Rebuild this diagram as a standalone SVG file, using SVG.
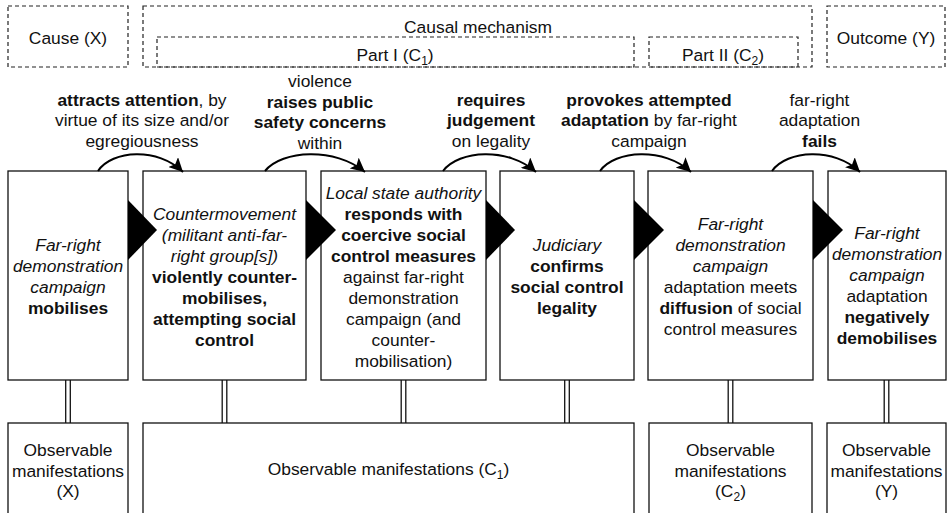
<svg xmlns="http://www.w3.org/2000/svg" width="950" height="513" viewBox="0 0 950 513">
<defs>
<style>
text{font-family:"Liberation Sans",Arial,Helvetica,sans-serif;font-size:17.4px;fill:#111;text-anchor:middle}
.i{font-style:italic}
.b{font-weight:bold}
.box{fill:#fff;stroke:#111;stroke-width:1.3}
.dash{fill:none;stroke:#222;stroke-width:1.2;stroke-dasharray:4 3}
.arc{fill:none;stroke:#000;stroke-width:2}
.tri{fill:#000}
.dbl{stroke:#111;stroke-width:1.3}
.sub{font-size:12px}
</style>
<marker id="ah" markerUnits="userSpaceOnUse" markerWidth="16" markerHeight="14" viewBox="0 0 16 14" refX="14" refY="7" orient="auto">
<path d="M0,0 L14,7 L0,14 L3,7 Z" fill="#000"/>
</marker>
</defs>
<rect width="950" height="513" fill="#fff"/>

<g id="headers">
<g id="cause"><rect class="dash" x="8" y="6" width="120" height="61"/><text x="68" y="44">Cause (X)</text></g>
<g id="mechanism"><rect class="dash" x="143" y="6" width="669" height="61"/><text x="478" y="33">Causal mechanism</text></g>
<g id="part1"><rect class="dash" x="157" y="37" width="477" height="30"/><text x="395" y="61">Part I (C<tspan class="sub" dy="4">1</tspan><tspan dy="-4">)</tspan></text></g>
<g id="part2"><rect class="dash" x="649" y="37" width="149" height="30"/><text x="723" y="61">Part II (C<tspan class="sub" dy="4">2</tspan><tspan dy="-4">)</tspan></text></g>
<g id="outcome"><rect class="dash" x="827" y="6" width="118" height="61"/><text x="886" y="44">Outcome (Y)</text></g>
</g>

<g id="node1"><rect class="box" x="8" y="171" width="120" height="209"/>
<text x="68" y="251" class="i">Far-right</text>
<text x="68" y="272" class="i">demonstration</text>
<text x="68" y="293" class="i">campaign</text>
<text x="68" y="314" class="b">mobilises</text>
</g>
<g id="node2"><rect class="box" x="143" y="171" width="163" height="209"/>
<text x="224.5" y="220" class="i">Countermovement</text>
<text x="224.5" y="241" class="i">(militant anti-far-</text>
<text x="224.5" y="262" class="i">right group[s])</text>
<text x="224.5" y="283" class="b">violently counter-</text>
<text x="224.5" y="304" class="b">mobilises,</text>
<text x="224.5" y="325" class="b">attempting social</text>
<text x="224.5" y="346" class="b">control</text>
</g>
<g id="node3"><rect class="box" x="321" y="171" width="165" height="209"/>
<text x="403.5" y="199" class="i">Local state authority</text>
<text x="403.5" y="220" class="b">responds with</text>
<text x="403.5" y="241" class="b">coercive social</text>
<text x="403.5" y="262" class="b">control measures</text>
<text x="403.5" y="283">against far-right</text>
<text x="403.5" y="304">demonstration</text>
<text x="403.5" y="325">campaign (and</text>
<text x="403.5" y="346">counter-</text>
<text x="403.5" y="367">mobilisation)</text>
</g>
<g id="node4"><rect class="box" x="500" y="171" width="134" height="209"/>
<text x="567" y="251" class="i">Judiciary</text>
<text x="567" y="272" class="b">confirms</text>
<text x="567" y="293" class="b">social control</text>
<text x="567" y="314" class="b">legality</text>
</g>
<g id="node5"><rect class="box" x="648" y="171" width="165" height="209"/>
<text x="730.5" y="230" class="i">Far-right</text>
<text x="730.5" y="251" class="i">demonstration</text>
<text x="730.5" y="272" class="i">campaign</text>
<text x="730.5" y="293">adaptation meets</text>
<text x="730.5" y="314"><tspan class="b">diffusion</tspan> of social</text>
<text x="730.5" y="335">control measures</text>
</g>
<g id="node6"><rect class="box" x="828" y="171" width="118" height="209"/>
<text x="887" y="239" class="i">Far-right</text>
<text x="887" y="260" class="i">demonstration</text>
<text x="887" y="281" class="i">campaign</text>
<text x="887" y="302">adaptation</text>
<text x="887" y="323" class="b">negatively</text>
<text x="887" y="344" class="b">demobilises</text>
</g>

<g id="obsX"><rect class="box" x="8" y="423" width="120" height="100"/>
<text x="68" y="456">Observable</text><text x="68" y="477">manifestations</text><text x="68" y="497">(X)</text></g>
<g id="obsC1"><rect class="box" x="143" y="423" width="491" height="100"/>
<text x="388.5" y="475">Observable manifestations (C<tspan class="sub" dy="4">1</tspan><tspan dy="-4">)</tspan></text></g>
<g id="obsC2"><rect class="box" x="649" y="423" width="163" height="100"/>
<text x="730.5" y="456">Observable</text><text x="730.5" y="477">manifestations</text><text x="730.5" y="497">(C<tspan class="sub" dy="4">2</tspan><tspan dy="-4">)</tspan></text></g>
<g id="obsY"><rect class="box" x="827" y="423" width="119" height="100"/>
<text x="886.5" y="456">Observable</text><text x="886.5" y="477">manifestations</text><text x="886.5" y="497">(Y)</text></g>

<g id="labels">
<text x="142" y="105.5"><tspan class="b">attracts attention</tspan>, by</text>
<text x="142" y="126">virtue of its size and/or</text>
<text x="142" y="146.5">egregiousness</text>
<text x="320" y="86.5">violence</text>
<text x="320" y="107.5" class="b">raises public</text>
<text x="320" y="128" class="b">safety concerns</text>
<text x="320" y="149">within</text>
<text x="491" y="105.5" class="b">requires</text>
<text x="491" y="126" class="b">judgement</text>
<text x="491" y="146.5">on legality</text>
<text x="649" y="105.5" class="b">provokes attempted</text>
<text x="649" y="126"><tspan class="b">adaptation</tspan> by far-right</text>
<text x="649" y="146.5">campaign</text>
<text x="819.5" y="105.5">far-right</text>
<text x="819.5" y="126">adaptation</text>
<text x="819.5" y="146.5" class="b">fails</text>
</g>

<g id="connectors">
<path class="arc" marker-end="url(#ah)" d="M98,171 C112,150 158,147 183,172"/>
<path class="arc" marker-end="url(#ah)" d="M265,171 C282,150 335,147 365,172"/>
<path class="arc" marker-end="url(#ah)" d="M443,171 C459,150 508,147 536,172"/>
<path class="arc" marker-end="url(#ah)" d="M600,171 C615,150 664,147 691,172"/>
<path class="arc" marker-end="url(#ah)" d="M772,171 C787,150 834,147 860,172"/>
<polygon class="tri" points="128,200 157,230 128,260"/>
<polygon class="tri" points="306,200 336,230 306,260"/>
<polygon class="tri" points="486,200 515,230 486,260"/>
<polygon class="tri" points="634,200 664,230 634,260"/>
<polygon class="tri" points="813,200 843,230 813,260"/>
<g class="dbl">
<line x1="65.7" y1="380" x2="65.7" y2="423"/><line x1="70.3" y1="380" x2="70.3" y2="423"/>
<line x1="222.2" y1="380" x2="222.2" y2="423"/><line x1="226.8" y1="380" x2="226.8" y2="423"/>
<line x1="401.2" y1="380" x2="401.2" y2="423"/><line x1="405.8" y1="380" x2="405.8" y2="423"/>
<line x1="564.7" y1="380" x2="564.7" y2="423"/><line x1="569.3" y1="380" x2="569.3" y2="423"/>
<line x1="728.2" y1="380" x2="728.2" y2="423"/><line x1="732.8" y1="380" x2="732.8" y2="423"/>
<line x1="884.2" y1="380" x2="884.2" y2="423"/><line x1="888.8" y1="380" x2="888.8" y2="423"/>
</g>
</g>
</svg>
